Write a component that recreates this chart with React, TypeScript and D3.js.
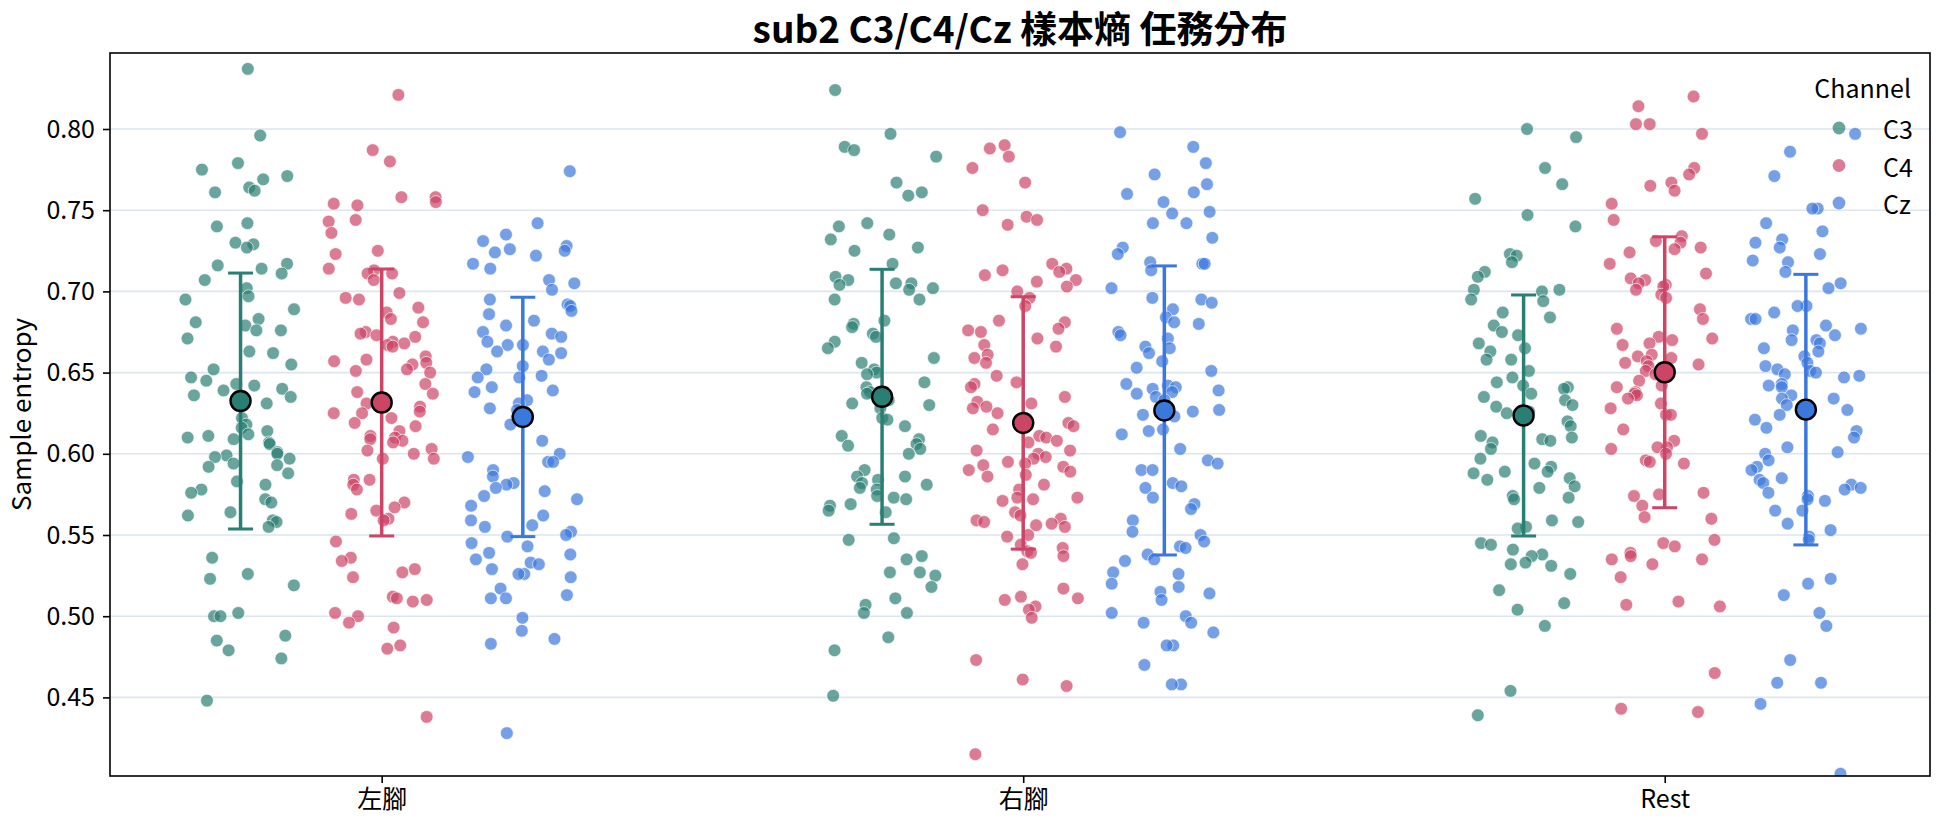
import React, { useEffect, useRef } from 'react';
import * as d3 from 'd3';

// Task categories on the x axis and the three EEG channels (hue)
const categories = ['左腳', '右腳', 'Rest'];
const channels = ['C3', 'C4', 'Cz'];
const yTicks = [0.45, 0.5, 0.55, 0.6, 0.65, 0.7, 0.75, 0.8];

// Sample entropy per trial
const leftFootC3 = [
  0.837, 0.796, 0.779, 0.775, 0.771, 0.769, 0.764, 0.762, 0.761, 0.742, 0.740, 0.730, 0.729, 0.727, 0.717, 0.716,
  0.714, 0.711, 0.707, 0.702, 0.697, 0.695, 0.689, 0.683, 0.681, 0.679, 0.676, 0.676, 0.671, 0.663, 0.662, 0.655,
  0.652, 0.647, 0.645, 0.643, 0.642, 0.640, 0.639, 0.636, 0.635, 0.631, 0.622, 0.618, 0.616, 0.614, 0.612, 0.611,
  0.610, 0.609, 0.607, 0.606, 0.601, 0.600, 0.599, 0.598, 0.597, 0.594, 0.593, 0.592, 0.588, 0.583, 0.581, 0.578,
  0.576, 0.572, 0.570, 0.564, 0.562, 0.559, 0.558, 0.555, 0.536, 0.526, 0.523, 0.519, 0.502, 0.500, 0.500, 0.488,
  0.485, 0.479, 0.474, 0.448
];
const leftFootC4 = [
  0.821, 0.787, 0.780, 0.758, 0.758, 0.755, 0.754, 0.753, 0.744, 0.743, 0.736, 0.725, 0.723, 0.714, 0.713, 0.711,
  0.711, 0.707, 0.699, 0.696, 0.695, 0.690, 0.687, 0.683, 0.681, 0.675, 0.674, 0.673, 0.672, 0.669, 0.668, 0.667,
  0.666, 0.660, 0.658, 0.657, 0.656, 0.655, 0.652, 0.651, 0.650, 0.643, 0.638, 0.637, 0.631, 0.629, 0.626, 0.625,
  0.625, 0.622, 0.619, 0.617, 0.614, 0.611, 0.610, 0.609, 0.608, 0.607, 0.603, 0.602, 0.600, 0.597, 0.597, 0.584,
  0.584, 0.581, 0.578, 0.570, 0.567, 0.565, 0.563, 0.560, 0.559, 0.546, 0.536, 0.534, 0.529, 0.527, 0.524, 0.512,
  0.511, 0.510, 0.509, 0.502, 0.500, 0.496, 0.493, 0.482, 0.480, 0.438
];
const leftFootCz = [
  0.774, 0.742, 0.735, 0.731, 0.728, 0.726, 0.725, 0.724, 0.722, 0.717, 0.714, 0.707, 0.705, 0.701, 0.695, 0.692,
  0.691, 0.688, 0.686, 0.682, 0.679, 0.675, 0.674, 0.672, 0.669, 0.667, 0.667, 0.663, 0.663, 0.662, 0.658, 0.654,
  0.652, 0.648, 0.647, 0.647, 0.641, 0.639, 0.638, 0.633, 0.631, 0.628, 0.627, 0.622, 0.618, 0.608, 0.600, 0.598,
  0.595, 0.595, 0.590, 0.586, 0.582, 0.581, 0.579, 0.577, 0.574, 0.572, 0.568, 0.562, 0.559, 0.556, 0.555, 0.552,
  0.550, 0.549, 0.545, 0.543, 0.539, 0.538, 0.535, 0.533, 0.532, 0.529, 0.526, 0.526, 0.524, 0.517, 0.513, 0.511,
  0.511, 0.499, 0.491, 0.486, 0.483, 0.428
];
const rightFootC3 = [
  0.824, 0.797, 0.789, 0.787, 0.783, 0.767, 0.761, 0.759, 0.742, 0.740, 0.735, 0.732, 0.727, 0.725, 0.717, 0.709,
  0.707, 0.705, 0.705, 0.704, 0.702, 0.701, 0.695, 0.695, 0.682, 0.680, 0.678, 0.674, 0.672, 0.669, 0.665, 0.659,
  0.656, 0.652, 0.650, 0.649, 0.644, 0.641, 0.638, 0.637, 0.633, 0.631, 0.630, 0.628, 0.622, 0.621, 0.617, 0.611,
  0.609, 0.606, 0.605, 0.603, 0.600, 0.590, 0.586, 0.586, 0.584, 0.582, 0.581, 0.579, 0.578, 0.574, 0.573, 0.572,
  0.569, 0.568, 0.565, 0.564, 0.548, 0.547, 0.537, 0.535, 0.527, 0.527, 0.525, 0.518, 0.511, 0.507, 0.502, 0.502,
  0.487, 0.479, 0.451
];
const rightFootC4 = [
  0.790, 0.788, 0.783, 0.776, 0.767, 0.750, 0.746, 0.744, 0.741, 0.717, 0.714, 0.713, 0.712, 0.710, 0.707, 0.706,
  0.703, 0.700, 0.696, 0.691, 0.682, 0.681, 0.677, 0.676, 0.675, 0.671, 0.667, 0.666, 0.661, 0.659, 0.656, 0.648,
  0.644, 0.643, 0.641, 0.635, 0.632, 0.631, 0.629, 0.628, 0.625, 0.621, 0.619, 0.617, 0.615, 0.611, 0.610, 0.608,
  0.607, 0.602, 0.602, 0.600, 0.598, 0.597, 0.595, 0.594, 0.593, 0.592, 0.590, 0.589, 0.587, 0.586, 0.581, 0.578,
  0.573, 0.573, 0.572, 0.571, 0.564, 0.562, 0.560, 0.559, 0.558, 0.557, 0.556, 0.555, 0.550, 0.549, 0.544, 0.542,
  0.540, 0.539, 0.537, 0.532, 0.517, 0.512, 0.511, 0.510, 0.506, 0.504, 0.499, 0.473, 0.461, 0.457, 0.415
];
const rightFootCz = [
  0.798, 0.789, 0.779, 0.772, 0.766, 0.761, 0.760, 0.755, 0.749, 0.748, 0.742, 0.742, 0.733, 0.727, 0.723, 0.718,
  0.717, 0.717, 0.713, 0.702, 0.696, 0.695, 0.693, 0.689, 0.684, 0.681, 0.680, 0.675, 0.673, 0.671, 0.666, 0.665,
  0.662, 0.657, 0.653, 0.651, 0.643, 0.642, 0.641, 0.640, 0.639, 0.638, 0.637, 0.635, 0.633, 0.627, 0.626, 0.624,
  0.623, 0.615, 0.614, 0.612, 0.603, 0.596, 0.594, 0.590, 0.590, 0.582, 0.580, 0.579, 0.573, 0.569, 0.566, 0.559,
  0.552, 0.550, 0.546, 0.543, 0.542, 0.538, 0.535, 0.534, 0.527, 0.526, 0.520, 0.518, 0.515, 0.514, 0.510, 0.502,
  0.500, 0.496, 0.496, 0.490, 0.482, 0.482, 0.470, 0.458, 0.458
];
const restC3 = [
  0.800, 0.795, 0.776, 0.766, 0.757, 0.747, 0.740, 0.723, 0.722, 0.718, 0.712, 0.709, 0.701, 0.701, 0.700, 0.695,
  0.694, 0.687, 0.684, 0.679, 0.675, 0.673, 0.668, 0.665, 0.663, 0.658, 0.658, 0.651, 0.647, 0.644, 0.642, 0.641,
  0.640, 0.637, 0.635, 0.633, 0.630, 0.629, 0.626, 0.625, 0.620, 0.617, 0.611, 0.610, 0.609, 0.608, 0.607, 0.603,
  0.597, 0.594, 0.592, 0.589, 0.589, 0.588, 0.585, 0.584, 0.580, 0.579, 0.574, 0.573, 0.572, 0.559, 0.558, 0.555,
  0.554, 0.545, 0.544, 0.541, 0.538, 0.537, 0.533, 0.532, 0.531, 0.526, 0.516, 0.508, 0.504, 0.494, 0.454, 0.439
];
const restC4 = [
  0.820, 0.814, 0.803, 0.803, 0.797, 0.776, 0.772, 0.767, 0.765, 0.762, 0.754, 0.744, 0.734, 0.731, 0.730, 0.727,
  0.726, 0.724, 0.717, 0.711, 0.708, 0.707, 0.705, 0.704, 0.703, 0.701, 0.698, 0.696, 0.689, 0.683, 0.677, 0.672,
  0.671, 0.670, 0.668, 0.667, 0.661, 0.660, 0.659, 0.657, 0.656, 0.655, 0.654, 0.651, 0.649, 0.647, 0.645, 0.642,
  0.641, 0.638, 0.637, 0.636, 0.634, 0.631, 0.628, 0.624, 0.624, 0.615, 0.608, 0.604, 0.604, 0.603, 0.600, 0.596,
  0.595, 0.594, 0.576, 0.575, 0.574, 0.568, 0.561, 0.560, 0.547, 0.545, 0.543, 0.539, 0.537, 0.535, 0.535, 0.532,
  0.524, 0.509, 0.507, 0.506, 0.465, 0.443, 0.441
];
const restCz = [
  0.797, 0.786, 0.771, 0.751, 0.751, 0.742, 0.737, 0.732, 0.730, 0.727, 0.723, 0.719, 0.718, 0.712, 0.705, 0.702,
  0.691, 0.691, 0.687, 0.683, 0.683, 0.679, 0.677, 0.676, 0.673, 0.670, 0.670, 0.668, 0.665, 0.663, 0.660, 0.656,
  0.654, 0.652, 0.651, 0.650, 0.649, 0.648, 0.647, 0.643, 0.642, 0.641, 0.636, 0.634, 0.634, 0.630, 0.627, 0.624,
  0.621, 0.616, 0.614, 0.610, 0.604, 0.601, 0.600, 0.596, 0.592, 0.590, 0.585, 0.584, 0.582, 0.581, 0.579, 0.578,
  0.576, 0.574, 0.572, 0.571, 0.565, 0.565, 0.557, 0.553, 0.549, 0.547, 0.523, 0.520, 0.513, 0.502, 0.494, 0.473,
  0.459, 0.459, 0.446, 0.403
];

// Mean and standard deviation per channel (C3, C4, Cz)
const meanLeftFoot = [0.6325, 0.6316, 0.6227];
const meanRightFoot = [0.6351, 0.619, 0.6267];
const meanRest = [0.6236, 0.6502, 0.6272];
const sdLeftFoot = [0.0788, 0.0822, 0.0737];
const sdRightFoot = [0.0785, 0.0777, 0.089];
const sdRest = [0.0742, 0.0834, 0.0833];

const palette = ['#2a7f74', '#cc4466', '#3a78dc'];

function App() {
  const chartRef = useRef(null);

  useEffect(() => {
    document.body.style.margin = '0';

    var width = 1944,
      height = 827,
      margin = { top: 53, right: 14, bottom: 51, left: 110 };

    d3.select(chartRef.current).select('svg').remove();

    var font = '"Noto Sans CJK TC", "Noto Sans", sans-serif';

    var groups = [
      { values: [leftFootC3, leftFootC4, leftFootCz], mean: meanLeftFoot, sd: sdLeftFoot },
      { values: [rightFootC3, rightFootC4, rightFootCz], mean: meanRightFoot, sd: sdRightFoot },
      { values: [restC3, restC4, restCz], mean: meanRest, sd: sdRest }
    ];

    // categorical positions 0..2 on a linear scale, hue dodged around each
    var x = d3.scaleLinear()
      .domain([-0.4235, 2.4135])
      .range([margin.left, width - margin.right]);
    var y = d3.scaleLinear()
      .domain([0.4016, 0.8468])
      .range([height - margin.bottom, margin.top]);
    var color = d3.scaleOrdinal().domain(channels).range(palette);

    var dodge = 0.22,
      jitterWidth = 0.086;
    var jitter = d3.randomUniform.source(d3.randomLcg(0.3172))(-1, 1);

    var svg = d3.select(chartRef.current)
      .append('svg')
      .attr('width', width)
      .attr('height', height)
      .style('display', 'block')
      .style('font-family', font);

    svg.append('defs').append('clipPath')
      .attr('id', 'plot-clip')
      .append('rect')
      .attr('x', margin.left)
      .attr('y', margin.top)
      .attr('width', width - margin.left - margin.right)
      .attr('height', height - margin.top - margin.bottom);

    // horizontal grid
    svg.append('g')
      .selectAll('line')
      .data(yTicks)
      .enter().append('line')
      .attr('x1', margin.left)
      .attr('x2', width - margin.right)
      .attr('y1', function (d) { return y(d); })
      .attr('y2', function (d) { return y(d); })
      .attr('stroke', '#dde5ee')
      .attr('stroke-width', 1.6);

    var plot = svg.append('g').attr('clip-path', 'url(#plot-clip)');

    // jittered trial points
    groups.forEach(function (g, ci) {
      g.values.forEach(function (vals, hi) {
        var center = ci + (hi - 1) * dodge;
        plot.append('g')
          .selectAll('circle')
          .data(vals)
          .enter().append('circle')
          .attr('cx', function () { return x(center + jitter() * jitterWidth); })
          .attr('cy', function (d) { return y(d); })
          .attr('r', 6.4)
          .attr('fill', color(channels[hi]))
          .attr('fill-opacity', 0.7)
          .attr('stroke', '#ffffff')
          .attr('stroke-opacity', 0.8)
          .attr('stroke-width', 0.8);
      });
    });

    // mean +/- sd error bars with caps
    groups.forEach(function (g, ci) {
      channels.forEach(function (ch, hi) {
        var cx = x(ci + (hi - 1) * dodge);
        var lo = g.mean[hi] - g.sd[hi],
          hiV = g.mean[hi] + g.sd[hi];
        var c = color(ch);
        var eg = plot.append('g').attr('stroke', c).attr('stroke-width', 3.5);
        eg.append('line').attr('x1', cx).attr('x2', cx).attr('y1', y(lo)).attr('y2', y(hiV));
        eg.append('line').attr('x1', cx - 12.5).attr('x2', cx + 12.5).attr('y1', y(lo)).attr('y2', y(lo)).attr('stroke-width', 3);
        eg.append('line').attr('x1', cx - 12.5).attr('x2', cx + 12.5).attr('y1', y(hiV)).attr('y2', y(hiV)).attr('stroke-width', 3);
        plot.append('circle')
          .attr('cx', cx)
          .attr('cy', y(g.mean[hi]))
          .attr('r', 10)
          .attr('fill', c)
          .attr('stroke', '#000000')
          .attr('stroke-width', 2.4);
      });
    });

    // axes
    var yAxis = svg.append('g')
      .attr('transform', 'translate(' + margin.left + ',0)')
      .call(d3.axisLeft(y).tickValues(yTicks).tickFormat(d3.format('.2f')).tickSize(7).tickPadding(8));
    var xAxis = svg.append('g')
      .attr('transform', 'translate(0,' + (height - margin.bottom) + ')')
      .call(d3.axisBottom(x).tickValues([0, 1, 2]).tickFormat(function (d) { return categories[d]; }).tickSize(7).tickPadding(7));

    [yAxis, xAxis].forEach(function (a) {
      a.select('.domain').remove();
      a.selectAll('line').attr('stroke', '#000').attr('stroke-width', 1.6);
      a.selectAll('text').attr('fill', '#000').style('font-size', '25px').style('font-family', font);
    });

    // frame
    svg.append('rect')
      .attr('x', margin.left)
      .attr('y', margin.top)
      .attr('width', width - margin.left - margin.right)
      .attr('height', height - margin.top - margin.bottom)
      .attr('fill', 'none')
      .attr('stroke', '#000')
      .attr('stroke-width', 1.6);

    svg.append('text')
      .attr('transform', 'translate(19,' + (margin.top + height - margin.bottom) / 2 + ') rotate(-90)')
      .attr('text-anchor', 'middle')
      .attr('dominant-baseline', 'central')
      .style('font-size', '26px')
      .text('Sample entropy');

    svg.append('text')
      .attr('x', (margin.left + width - margin.right) / 2)
      .attr('y', 43)
      .attr('text-anchor', 'middle')
      .style('font-size', '37px')
      .style('font-weight', 'bold')
      .text('sub2 C3/C4/Cz 樣本熵 任務分布');

    // legend
    var legend = svg.append('g');
    legend.append('text')
      .attr('x', 1911)
      .attr('y', 87)
      .attr('text-anchor', 'end')
      .attr('dominant-baseline', 'central')
      .style('font-size', '25px')
      .text('Channel');
    var items = legend.selectAll('.item')
      .data(channels)
      .enter().append('g')
      .attr('transform', function (d, i) { return 'translate(0,' + (128 + i * 37.5) + ')'; });
    items.append('circle')
      .attr('cx', 1839)
      .attr('r', 6.4)
      .attr('fill', function (d) { return color(d); })
      .attr('fill-opacity', 0.7);
    items.append('text')
      .attr('x', 1883)
      .attr('dominant-baseline', 'central')
      .style('font-size', '25px')
      .text(function (d) { return d; });
  }, []);

  return <div ref={chartRef}></div>;
}

export default App;
